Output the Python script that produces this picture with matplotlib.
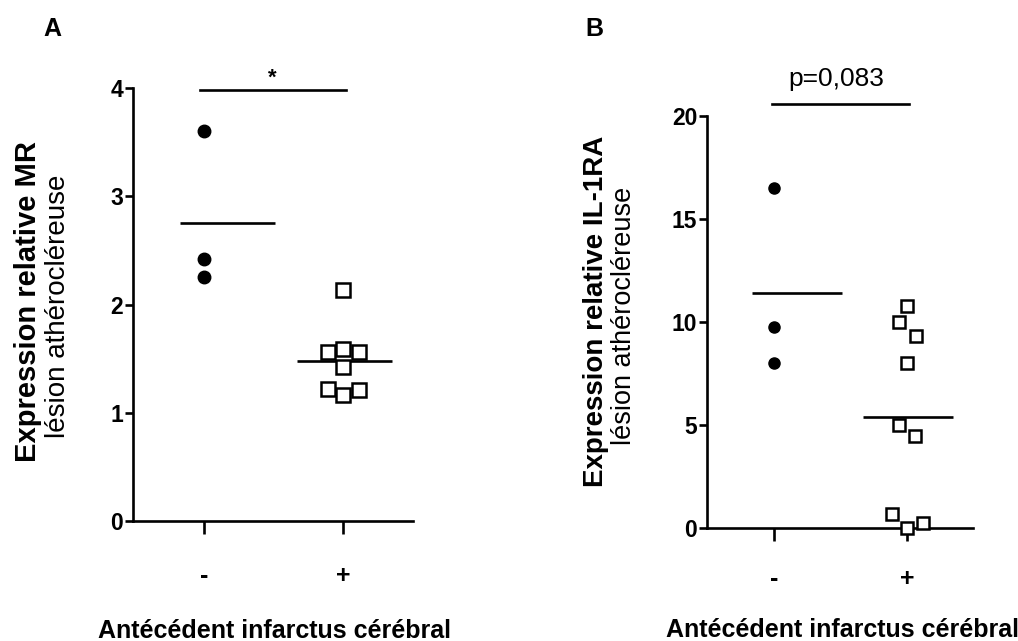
import numpy as np
import matplotlib
matplotlib.use("Agg")
import matplotlib.pyplot as plt

plt.rcParams["font.family"] = ["Liberation Sans", "DejaVu Sans"]

# panel A: MR
groups = ["-", "+"]
mr_neg = [3.60, 2.42, 2.25]
mr_pos = [2.13, 1.56, 1.59, 1.56, 1.42, 1.22, 1.16, 1.21]
# panel B: IL-1RA
il_neg = [16.5, 9.76, 8.0]
il_pos = [10.78, 10.0, 9.32, 8.0, 5.0, 4.47, 0.68, 0.0, 0.24]

# horizontal scatter of the "+" points (category units)
mr_pos_dx = [0.0, -0.11, 0.0, 0.11, 0.0, -0.11, 0.0, 0.11]
il_pos_dx = [0.0, -0.06, 0.07, 0.0, -0.06, 0.06, -0.11, 0.0, 0.12]

xlabel = "Antécédent infarctus cérébral"

fig = plt.figure(figsize=(10.18, 6.41), dpi=100)
axA = fig.add_axes([0.1306, 0.1872, 0.2750, 0.6755])
axB = fig.add_axes([0.6945, 0.1763, 0.2613, 0.6427])


def draw_panel(ax, neg, pos, pos_dx, ymax, yticks, dot_ms, sq_ms, xpad):
    ax.plot(np.zeros(len(neg)), neg, "o", color="black", ms=dot_ms,
            clip_on=False, zorder=3)
    ax.plot(1 + np.array(pos_dx), pos, "s", mfc="white", mec="black",
            ms=sq_ms, mew=1.8, clip_on=False, zorder=3)
    for x0, vals in ((-0.17, neg), (0.67, pos)):
        ax.plot([x0, x0 + 0.68], [np.mean(vals)] * 2, color="black",
                lw=1.9, solid_capstyle="butt", clip_on=False)
    ax.set_xlim(-0.51, 1.5)
    ax.set_ylim(0, ymax)
    ax.set_yticks(yticks)
    ax.set_xticks([0, 1])
    ax.set_xticklabels(groups, fontsize=18, fontweight="bold")
    for lab in ax.get_yticklabels():
        lab.set_fontsize(16.5)
        lab.set_fontweight("bold")
    for s in ("top", "right"):
        ax.spines[s].set_visible(False)
    for s in ("left", "bottom"):
        ax.spines[s].set_linewidth(1.9)
    ax.tick_params(axis="y", length=6, width=1.9, pad=1)
    ax.tick_params(axis="x", length=9, width=1.9, pad=xpad)


draw_panel(axA, mr_neg, mr_pos, mr_pos_dx, 4, [0, 1, 2, 3, 4], 9, 9.5, 22)
draw_panel(axB, il_neg, il_pos, il_pos_dx, 20, [0, 5, 10, 15, 20], 8, 8.5, 19)

# significance bars
axA.plot([-0.03, 1.02], [3.98, 3.98], color="black", lw=1.9, clip_on=False)
axA.text(0.49, 3.99, "*", ha="center", va="bottom", fontsize=16, fontweight="bold")
axB.plot([-0.02, 1.02], [20.6, 20.6], color="black", lw=1.9, clip_on=False)
axB.text(0.47, 21.2, "p=0,083", ha="center", va="bottom", fontsize=19)

# axis titles
fig.text(275 / 1018, 1 - 631 / 641, xlabel, ha="center", va="center",
         fontsize=18, fontweight="bold")
fig.text(843 / 1018, 1 - 630 / 641, xlabel, ha="center", va="center",
         fontsize=18, fontweight="bold")

fig.text(28 / 1018, 1 - 302 / 641, "Expression relative MR", rotation=90,
         ha="center", va="center", fontsize=21, fontweight="bold")
fig.text(58 / 1018, 1 - 306 / 641, "lésion athérocléreuse", rotation=90,
         ha="center", va="center", fontsize=20)
fig.text(596 / 1018, 1 - 311 / 641, "Expression relative IL-1RA", rotation=90,
         ha="center", va="center", fontsize=20, fontweight="bold")
fig.text(624 / 1018, 1 - 316 / 641, "lésion athérocléreuse", rotation=90,
         ha="center", va="center", fontsize=19.5)

# panel letters
fig.text(52 / 1018, 1 - 29 / 641, "A", ha="center", va="center",
         fontsize=18, fontweight="bold")
fig.text(594 / 1018, 1 - 29 / 641, "B", ha="center", va="center",
         fontsize=18, fontweight="bold")

fig.savefig("out.png", dpi=100)
